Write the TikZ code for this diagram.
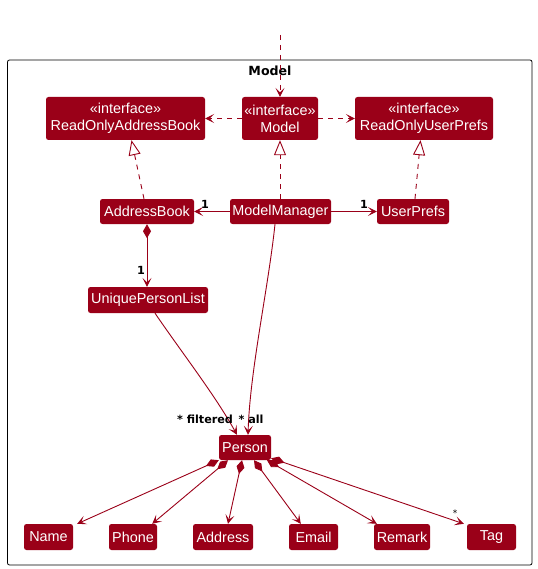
\documentclass[tikz,border=0pt]{standalone}
\usepackage{fontspec}
\setmainfont{Liberation Sans}
\newfontfamily\lblfont{DejaVu Sans}
\usetikzlibrary{arrows.meta,calc}
\definecolor{pred}{HTML}{9A0018}
\begin{document}
\begin{tikzpicture}[x=1pt,y=-1pt,
  cls/.style={fill=pred, text=white, rounded corners=2.5pt, inner sep=0pt,
    font=\fontsize{14.4}{17}\selectfont, align=center, minimum height=25pt},
  lbl/.style={font=\lblfont\bfseries\fontsize{11.2}{13}\selectfont, inner sep=0pt, text=black},
  small/.style={font=\lblfont\fontsize{9}{10}\selectfont, inner sep=0pt, text=black},
  ln/.style={draw=pred, line width=0.9pt},
  tipA/.style={-{Stealth[length=9pt,width=9pt,inset=4.5pt]}},
  dep/.style={ln, dash pattern=on 5pt off 5pt, tipA},
  real/.style={ln, dash pattern=on 5pt off 5pt, -{Triangle[open,length=15pt,width=12pt,fill=white]}},
  assoc/.style={ln, tipA},
  comp/.style={ln, {Diamond[length=14pt,width=8pt]}-{Stealth[length=9pt,width=9pt,inset=4.5pt]}}
]
\useasboundingbox (0,0) rectangle (537,569);
% frame
\node[draw=black, line width=0.8pt, rounded corners=2pt, minimum width=524.5pt, minimum height=505pt, inner sep=0pt] (frame) at (269.75,312.5) {};
\node[font=\lblfont\bfseries\fontsize{12.6}{14}\selectfont, inner sep=0pt] (title) at (270,71) {Model};

% classes
\node[cls, minimum width=159pt, minimum height=43pt] (roab) at (125.5,118.5) {«interface»\\ReadOnlyAddressBook};
\node[cls, minimum width=76pt, minimum height=43pt] (model) at (280,118.5) {«interface»\\Model};
\node[cls, minimum width=138pt, minimum height=43pt] (roup) at (424,118.5) {«interface»\\ReadOnlyUserPrefs};

\node[cls, minimum width=94pt] (ab) at (147,211.5) {AddressBook};
\node[cls, minimum width=101pt] (mm) at (280.5,211.5) {ModelManager};
\node[cls, minimum width=72pt] (up) at (413,211.5) {UserPrefs};

\node[cls, minimum width=120pt, minimum height=26pt] (upl) at (148,300) {UniquePersonList};
\node[cls, minimum width=52pt] (person) at (245,447.5) {Person};

\node[cls, minimum width=49pt, minimum height=26pt] (name) at (48.5,537) {Name};
\node[cls, minimum width=48pt, minimum height=26pt] (phone) at (133,537) {Phone};
\node[cls, minimum width=60pt, minimum height=26pt] (address) at (223,537) {Address};
\node[cls, minimum width=49pt, minimum height=26pt] (email) at (313.5,537) {Email};
\node[cls, minimum width=56pt, minimum height=26pt] (remark) at (402,537) {Remark};
\node[cls, minimum width=49pt, minimum height=26pt] (tag) at (491.5,537) {Tag};

% incoming dependency
\coordinate (topin) at (280,35);
\draw[dep] (topin) -- (model.north);

% dependencies
\draw[dep] (model.west) -- (roab.east);
\draw[dep] (model.east) -- (roup.west);

% realizations
\draw[real] ([xshift=-3pt]ab.north) -- ([xshift=6pt]roab.south);
\draw[real] ([xshift=-0.5pt]mm.north) -- (model.south);
\draw[real] ([xshift=2pt]up.north) -- ([xshift=-3.5pt]roup.south);

% associations
\draw[assoc] (mm.west) -- (ab.east);
\draw[assoc] (mm.east) -- (up.west);
\node[lbl] (l1) at (205,204) {1};
\node[lbl] (l2) at (364,204) {1};

\draw[comp] (ab.south) -- ([xshift=-1pt]upl.north);
\node[lbl] (l3) at (141,270) {1};

\draw[assoc] ([xshift=7pt]upl.south) .. controls (180,350) and (215,395) .. ([xshift=-8pt]person.north);
\draw[assoc] ([xshift=-5.5pt]mm.south) .. controls (268,290) and (250,370) .. ([xshift=3pt]person.north);
\node[lbl] (lf) at (205,419) {* filtered};
\node[lbl] (la) at (251,419) {* all};

% compositions from Person
\draw[comp] (person.south west) -- ([xshift=4pt]name.north east);
\draw[comp] ([xshift=-17pt]person.south) -- ([xshift=-5pt]phone.north east);
\draw[comp] ([xshift=-3pt]person.south) -- ([xshift=5pt]address.north);
\draw[comp] ([xshift=9pt]person.south) -- ([xshift=12pt]email.north west);
\draw[comp] ([xshift=22pt]person.south) -- ([xshift=3pt]remark.north west);
\draw[comp] ([yshift=2pt]person.south east) -- ([xshift=-3pt]tag.north west);
\node[small] (lt) at (455,513) {*};
\end{tikzpicture}
\end{document}
